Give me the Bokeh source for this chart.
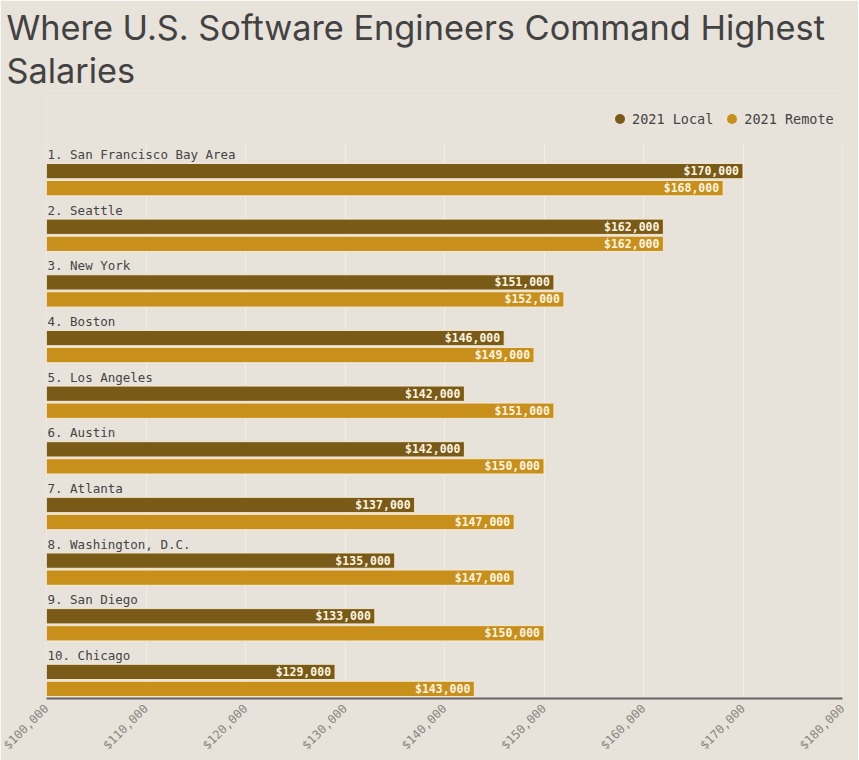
from bokeh.plotting import figure
from bokeh.models import (ColumnDataSource, Range1d, NumeralTickFormatter, Title,
                          Legend, LegendItem, FixedTicker, BoxAnnotation)
from bokeh.core.properties import value
from bokeh.embed import file_html
from bokeh.resources import INLINE

cities = ["1. San Francisco Bay Area", "2. Seattle", "3. New York", "4. Boston",
          "5. Los Angeles", "6. Austin", "7. Atlanta", "8. Washington, D.C.",
          "9. San Diego", "10. Chicago"]
local_2021 = [170000, 162000, 151000, 146000, 142000, 142000, 137000, 135000, 133000, 129000]
remote_2021 = [168000, 162000, 152000, 149000, 151000, 150000, 147000, 147000, 150000, 143000]
x_ticks = [100000, 110000, 120000, 130000, 140000, 150000, 160000, 170000, 180000]

BG = "#e8e3da"
LOCAL = "#7a5a17"
REMOTE = "#c88f1b"
MONO = "DejaVu Sans Mono"

idx = list(range(len(cities)))
src = ColumnDataSource(dict(
    city=cities,
    local=local_2021,
    remote=remote_2021,
    y_label=[i + 0.165 for i in idx],
    y_local=[i + 0.462 for i in idx],
    y_remote=[i + 0.768 for i in idx],
    local_txt=["${:,}".format(v) for v in local_2021],
    remote_txt=["${:,}".format(v) for v in remote_2021],
    x0=[x_ticks[0]] * len(cities),
    zero=[0] * len(cities),
))

p = figure(width=858, height=760, output_backend="svg", toolbar_location=None,
           x_range=Range1d(x_ticks[0], x_ticks[-1]),
           y_range=Range1d(len(cities) - 0.06, -0.987),
           y_axis_location=None,
           min_border_left=46, min_border_right=16, min_border_top=90,
           min_border_bottom=60)
p.background_fill_color = BG
p.border_fill_color = BG
p.outline_line_color = None

p.xgrid.ticker = FixedTicker(ticks=x_ticks)
p.xgrid.grid_line_color = "#f2eee6"
p.xgrid.grid_line_width = 1
p.ygrid.grid_line_color = None

ax = p.xaxis[0]
ax.ticker = FixedTicker(ticks=x_ticks)
ax.formatter = NumeralTickFormatter(format="$0,0")
ax.major_label_orientation = 0.785398
ax.major_label_text_font = MONO
ax.major_label_text_font_size = "12px"
ax.major_label_text_color = "#8a8580"
ax.major_tick_line_color = None
ax.minor_tick_line_color = None
ax.major_tick_out = 0
ax.major_tick_in = 0
ax.minor_tick_out = 0
ax.minor_tick_in = 0
ax.axis_line_color = "#666360"
ax.axis_line_width = 2
ax.major_label_standoff = 8

# mask the grid above the first group (header band holding the legend)
p.add_layout(BoxAnnotation(bottom=-0.03, fill_color=BG, fill_alpha=1,
                           line_color=BG, line_width=2, level="underlay"))

bar_h = 0.275
p.hbar(y="y_local", left="x0", right="local", height=bar_h, source=src,
       fill_color=LOCAL, line_color="#f3e9d2", line_width=1)
p.hbar(y="y_remote", left="x0", right="remote", height=bar_h, source=src,
       fill_color=REMOTE, line_color="#f3e9d2", line_width=1)

p.text(x="local", y="y_local", text="local_txt", source=src, x_offset=-4,
       text_align="right", text_baseline="middle", text_font=value(MONO),
       text_font_size="11.5px", text_font_style="bold", text_color="#fdf5e2")
p.text(x="remote", y="y_remote", text="remote_txt", source=src, x_offset=-4,
       text_align="right", text_baseline="middle", text_font=value(MONO),
       text_font_size="11.5px", text_font_style="bold", text_color="#fdf5e2")
p.text(x="x0", y="y_label", text="city", source=src, x_offset=1,
       text_align="left", text_baseline="middle", text_font=value(MONO),
       text_font_size="12.5px", text_color="#444444")

# legend-only markers (size 0 in the plot)
leg_local = p.scatter(x="x0", y="y_label", size="zero", source=src,
                      fill_color=LOCAL, line_color=None)
leg_remote = p.scatter(x="x0", y="y_label", size="zero", source=src,
                       fill_color=REMOTE, line_color=None)

legend = Legend(items=[LegendItem(label="2021 Local", renderers=[leg_local], index=0),
                       LegendItem(label="2021 Remote", renderers=[leg_remote], index=0)],
                orientation="horizontal", location=(561, 567),
                background_fill_color=BG, background_fill_alpha=1,
                border_line_color=None,
                label_text_font=MONO, label_text_font_size="13.5px",
                label_text_color="#444444", glyph_width=25, glyph_height=25,
                label_standoff=-5, spacing=6, padding=2, margin=0)
p.add_layout(legend, "center")

p.add_layout(Title(text="Salaries", text_font="Inter", text_font_size="34.3px",
                   text_font_style="normal", text_color="#424242", align="left",
                   offset=-40, standoff=0), "above")
p.add_layout(Title(text="Where U.S. Software Engineers Command Highest",
                   text_font="Inter", text_font_size="34.3px",
                   text_font_style="normal", text_color="#424242", align="left",
                   offset=-40, standoff=0), "above")

open("out.html", "w").write(file_html(p, INLINE))
